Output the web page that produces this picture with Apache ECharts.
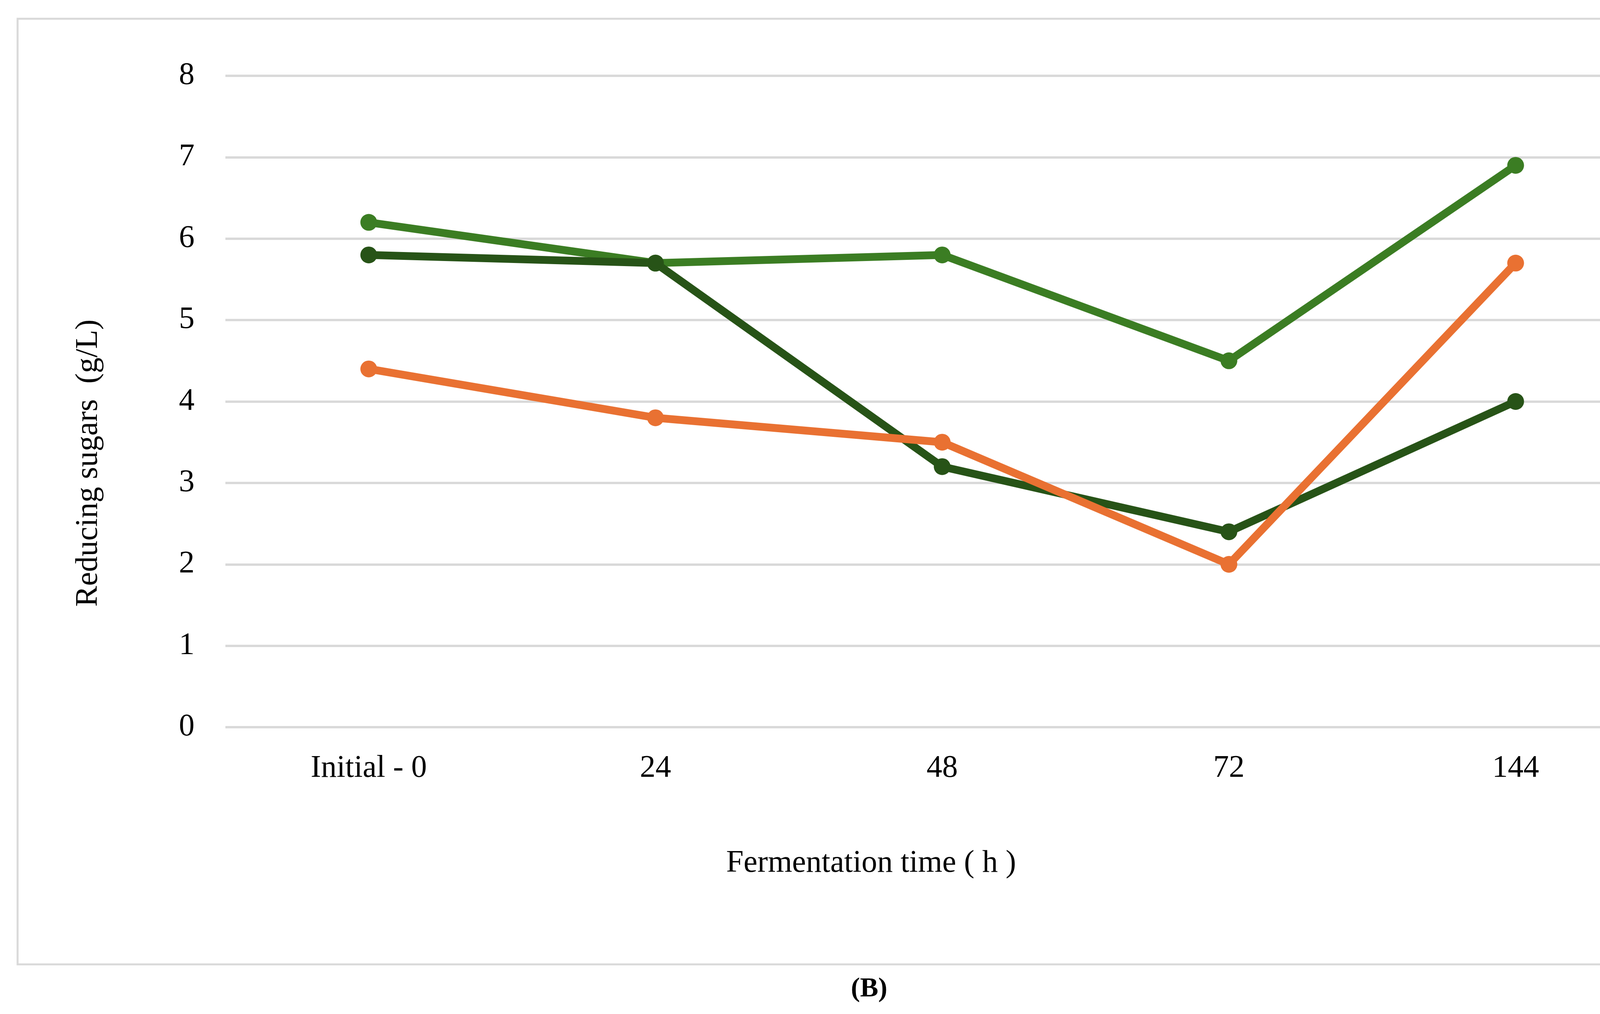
<!DOCTYPE html>
<html>
<head>
<meta charset="utf-8">
<script src="https://cdn.jsdelivr.net/npm/echarts@6/dist/echarts.min.js"></script>
<style>
  html, body { margin: 0; padding: 0; background: #ffffff; overflow: hidden; }
  #chart { width: 4455px; height: 2595px; }
</style>
</head>
<body>
<div id="chart"></div>
<script>
// ---- data ----
const categories = ['Initial - 0', '24', '48', '72', '144'];
const seriesLightGreen = [6.2, 5.7, 5.8, 4.5, 6.9];
const seriesDarkGreen = [5.8, 5.7, 3.2, 2.4, 4.0];
const seriesOrange = [4.4, 3.8, 3.5, 2.0, 5.7];
const yTicks = { min: 0, max: 8, interval: 1 };
const xAxisTitle = 'Fermentation time ( h )';
const yAxisTitle = 'Reducing sugars  (g/L)';
const panelLabel = '(B)';

const FONT = '"Liberation Serif", "DejaVu Serif", serif';
const chart = echarts.init(document.getElementById('chart'), null, { renderer: 'canvas' });

function lineSeries(name, data, color) {
  return {
    name: name,
    type: 'line',
    data: data,
    symbol: 'circle',
    symbolSize: 43,
    lineStyle: { width: 20, color: color },
    itemStyle: { color: color },
    animation: false
  };
}

chart.setOption({
  backgroundColor: '#ffffff',
  animation: false,
  grid: { left: 577, right: 208, top: 194, bottom: 734 },
  xAxis: {
    type: 'category',
    data: categories,
    boundaryGap: true,
    axisLine: { show: false },
    axisTick: { show: false },
    axisLabel: { fontFamily: FONT, fontSize: 80, color: '#000', margin: 66 }
  },
  yAxis: {
    type: 'value',
    min: yTicks.min,
    max: yTicks.max,
    interval: yTicks.interval,
    axisLine: { show: false },
    axisTick: { show: false },
    axisLabel: { fontFamily: FONT, fontSize: 80, color: '#000', margin: 79 },
    splitLine: { show: true, lineStyle: { color: '#d9d9d9', width: 6 } }
  },
  graphic: [
    {
      type: 'rect',
      shape: { x: 45, y: 48, width: 4359, height: 2420 },
      style: { fill: 'none', stroke: '#d9d9d9', lineWidth: 5 },
      silent: true,
      z: -1
    },
    {
      type: 'text',
      x: 227,
      y: 1185,
      rotation: Math.PI / 2,
      style: {
        text: yAxisTitle,
        fontFamily: FONT,
        fontSize: 80,
        fill: '#000',
        align: 'center',
        verticalAlign: 'middle'
      }
    },
    {
      type: 'text',
      x: 2230,
      y: 2210,
      style: {
        text: xAxisTitle,
        fontFamily: FONT,
        fontSize: 80,
        fill: '#000',
        align: 'center',
        verticalAlign: 'middle'
      }
    },
    {
      type: 'text',
      x: 2225,
      y: 2532,
      style: {
        text: panelLabel,
        fontFamily: FONT,
        fontSize: 70,
        fontWeight: 'bold',
        fill: '#000',
        align: 'center',
        verticalAlign: 'middle'
      }
    }
  ],
  series: [
    lineSeries('Series 1', seriesLightGreen, '#3B7D23'),
    lineSeries('Series 2', seriesDarkGreen, '#275317'),
    lineSeries('Series 3', seriesOrange, '#E97132')
  ]
});
</script>
</body>
</html>
